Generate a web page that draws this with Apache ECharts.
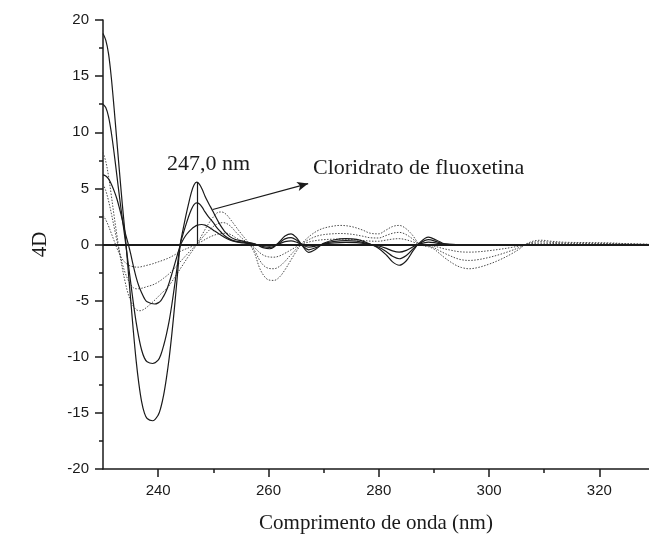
<!DOCTYPE html>
<html><head><meta charset="utf-8">
<script src="https://cdn.jsdelivr.net/npm/echarts@6/dist/echarts.min.js"></script>
<style>html,body{margin:0;padding:0;background:#fff}#c{width:649px;height:542px}</style>
</head><body><div id="c"></div>
<script>
// Axis tick values
const xMajorTicks = [240, 260, 280, 300, 320];
const xMinorTicks = [250, 270, 290, 310];
const yMin = -20, yMax = 20, yStep = 5;
const xMin = 230, xMax = 329;

// Annotation values
const peakLabel = '247,0 nm';
const compoundLabel = 'Cloridrato de fluoxetina';
const peakX = 247.0, peakY = 5.55;
const arrowFrom = [249.9, 3.12], arrowTo = [267.2, 5.43];

// Solid curves (fluoxetine, three concentrations)
const solidA = [[230,18.8],[230.5,18.2],[231,17.0],[231.5,14.9],[232,12.2],[232.5,9.3],[233,6.4],[233.5,3.6],[234,1.0],[234.5,-1.9],[235,-4.8],[235.5,-7.7],[236,-10.3],[236.5,-12.4],[237,-14.0],[237.5,-15.0],[238,-15.5],[239,-15.7],[240,-15.2],[240.5,-14.5],[241,-13.4],[241.5,-11.9],[242,-10.1],[242.5,-7.9],[243,-5.4],[243.5,-2.7],[244,0],[244.5,1.3],[245,2.5],[245.5,3.6],[246,4.6],[246.5,5.3],[247,5.55],[247.5,5.35],[248,4.9],[248.5,4.3],[249,3.8],[249.5,3.35],[250,2.9],[250.5,2.4],[251,1.95],[251.5,1.55],[252,1.2],[253,0.7],[254,0.45],[255.4,0.3],[257,0.12],[258,-0.05],[259,-0.28],[260.2,-0.38],[261,-0.22],[262,0.25],[263,0.75],[264.1,0.95],[265,0.65],[266,0],[267.3,-0.7],[268.5,-0.45],[270,0.1],[272,0.42],[274,0.52],[276,0.45],[278,0.12],[280,-0.35],[281.5,-1.0],[282.5,-1.55],[283.7,-1.85],[285,-1.45],[286.3,-0.5],[287.3,0.1],[289,0.65],[290.5,0.38],[292,0.05],[294,0],[329,0]];
const solidB = [[230,12.5],[230.5,12.2],[231,11.4],[231.5,10.0],[232,8.2],[232.5,6.2],[233,4.2],[233.5,2.3],[234,0.5],[234.5,-1.4],[235,-3.3],[235.5,-5.2],[236,-6.9],[236.5,-8.3],[237,-9.4],[237.5,-10.1],[238,-10.45],[239,-10.6],[240,-10.3],[240.5,-9.8],[241,-9.0],[241.5,-8.0],[242,-6.8],[242.5,-5.3],[243,-3.6],[243.5,-1.8],[244,0],[244.5,0.9],[245,1.7],[245.5,2.45],[246,3.1],[246.5,3.55],[247,3.7],[247.5,3.6],[248,3.3],[248.5,2.9],[249,2.55],[249.5,2.25],[250,1.95],[250.5,1.6],[251,1.3],[251.5,1.05],[252,0.8],[253,0.48],[254,0.3],[255.4,0.2],[257,0.08],[258,-0.03],[259,-0.18],[260.2,-0.26],[261,-0.15],[262,0.16],[263,0.5],[264.1,0.62],[265,0.42],[266,0],[267.3,-0.47],[268.5,-0.3],[270,0.07],[272,0.28],[274,0.35],[276,0.3],[278,0.08],[280,-0.24],[281.5,-0.68],[282.5,-1.05],[283.7,-1.27],[285,-0.98],[286.3,-0.34],[287.3,0.06],[289,0.43],[290.5,0.25],[292,0.03],[294,0],[329,0]];
const solidC = [[230,6.2],[230.5,6.1],[231,5.85],[231.5,5.4],[232,4.8],[232.5,4.1],[233,3.2],[233.5,2.2],[234,1.1],[234.6,0],[235,-0.8],[235.5,-1.9],[236,-2.9],[236.5,-3.7],[237,-4.3],[237.5,-4.8],[238,-5.1],[239.4,-5.3],[240,-5.2],[240.5,-5.0],[241,-4.6],[241.5,-4.1],[242,-3.4],[242.5,-2.6],[243,-1.75],[243.5,-0.9],[244,-0.1],[244.5,0.4],[245,0.8],[245.5,1.1],[246,1.35],[246.5,1.55],[247,1.7],[247.9,1.78],[248.5,1.72],[249,1.6],[249.5,1.45],[250,1.28],[251,0.95],[252,0.65],[253,0.4],[254,0.25],[255.4,0.15],[257,0.05],[258,-0.02],[259,-0.1],[260.2,-0.14],[261,-0.08],[262,0.08],[263,0.25],[264.1,0.32],[265,0.22],[266,0],[267.3,-0.24],[268.5,-0.15],[270,0.04],[272,0.15],[274,0.19],[276,0.16],[278,0.04],[280,-0.13],[281.5,-0.37],[282.5,-0.57],[283.7,-0.68],[285,-0.52],[286.3,-0.18],[287.3,0.03],[289,0.22],[290.5,0.13],[292,0.02],[294,0],[329,0]];

// Dotted curves (second component, three concentrations)
const dottedA = [[230,8.2],[230.5,7.4],[231,6.1],[231.5,4.4],[232,2.6],[232.5,0.9],[233,-0.7],[233.5,-2.1],[234,-3.3],[234.5,-4.3],[235,-5.0],[235.5,-5.5],[236,-5.8],[236.7,-5.9],[237.5,-5.75],[238.5,-5.35],[239.5,-4.9],[240.5,-4.4],[241.6,-3.9],[242.5,-3.3],[243.5,-2.55],[244.5,-1.8],[245.5,-1.05],[246.3,-0.5],[247,0],[248,0.9],[249,1.75],[250,2.45],[250.8,2.85],[251.5,2.9],[252.3,2.7],[253,2.3],[254,1.65],[255,1.0],[256,0.4],[256.7,-0.05],[257.5,-0.8],[258.4,-2.1],[259.2,-2.8],[260,-3.15],[261,-3.2],[262,-2.9],[263,-2.25],[264,-1.45],[265,-0.65],[266,0.05],[267,0.55],[268,0.95],[269,1.25],[270,1.45],[271.5,1.62],[273,1.7],[275,1.6],[277,1.3],[278.5,1.0],[280,0.95],[281.2,1.25],[282.5,1.6],[283.7,1.7],[284.7,1.5],[286,0.9],[287.3,0.05],[288,-0.1],[289,-0.2],[290,-0.4],[291,-0.8],[292,-1.2],[293,-1.55],[294,-1.85],[295,-2.05],[296.4,-2.16],[298,-2.05],[300,-1.75],[302,-1.35],[304,-0.85],[305.5,-0.4],[306.6,0],[308,0.3],[309.6,0.38],[311,0.3],[313.8,0.2],[318,0.17],[322,0.14],[325,0.07],[329,0.02]];
const dottedB = [[230,5.4],[230.5,4.8],[231,3.9],[231.5,2.8],[232,1.6],[232.5,0.4],[233,-0.7],[233.5,-1.7],[234,-2.5],[234.5,-3.1],[235,-3.55],[235.5,-3.85],[236.1,-3.95],[237,-3.9],[238,-3.75],[239,-3.6],[240,-3.35],[241,-3.0],[242,-2.6],[243,-2.1],[244,-1.55],[245,-1.0],[246,-0.48],[247,0],[248,0.6],[249,1.15],[250,1.6],[251,1.88],[251.8,1.95],[252.5,1.85],[253.3,1.55],[254,1.15],[255,0.65],[256,0.22],[256.7,-0.03],[257.5,-0.55],[258.4,-1.4],[259.2,-1.9],[260,-2.12],[261,-2.16],[262,-1.95],[263,-1.5],[264,-0.95],[265,-0.42],[266,0.05],[267,0.35],[268,0.6],[269,0.78],[270,0.88],[271.5,0.95],[273,0.98],[275,0.92],[277,0.75],[278.5,0.6],[280,0.58],[281.2,0.78],[282.5,1.0],[283.7,1.08],[284.7,0.95],[286,0.55],[287.3,0.03],[288,-0.07],[289,-0.14],[290,-0.28],[291,-0.55],[292,-0.8],[293,-1.02],[294,-1.22],[295,-1.36],[296.4,-1.42],[298,-1.35],[300,-1.15],[302,-0.88],[304,-0.55],[305.5,-0.26],[306.6,0],[308,0.2],[309.6,0.25],[311,0.2],[313.8,0.13],[318,0.11],[322,0.09],[325,0.05],[329,0.01]];
const dottedC = [[230,2.6],[230.5,2.2],[231,1.65],[231.5,1.0],[232,0.35],[232.5,-0.3],[233,-0.85],[233.5,-1.3],[234,-1.6],[234.5,-1.8],[235,-1.92],[235.7,-2.0],[236.4,-2.02],[237.2,-1.95],[238,-1.85],[239,-1.72],[240,-1.55],[241,-1.38],[242,-1.18],[243,-0.92],[244,-0.62],[245,-0.4],[246,-0.2],[247,0],[248,0.3],[249,0.58],[250,0.8],[251,0.95],[252.4,1.0],[253.3,0.85],[254,0.62],[255,0.35],[256,0.12],[256.7,-0.02],[257.5,-0.3],[258.4,-0.72],[259.2,-0.98],[260,-1.1],[261,-1.13],[262,-1.02],[263,-0.78],[264,-0.5],[265,-0.22],[266,0.03],[267,0.18],[268,0.3],[269,0.38],[270,0.43],[271.5,0.47],[273,0.48],[275,0.45],[277,0.37],[278.5,0.3],[280,0.29],[281.2,0.38],[282.5,0.48],[283.7,0.52],[284.7,0.45],[286,0.27],[287.3,0.02],[288,-0.04],[289,-0.07],[290,-0.14],[291,-0.27],[292,-0.4],[293,-0.5],[294,-0.6],[295,-0.66],[296.4,-0.68],[298,-0.65],[300,-0.55],[302,-0.42],[304,-0.27],[305.5,-0.13],[306.6,0],[308,0.1],[309.6,0.12],[311,0.1],[313.8,0.07],[318,0.06],[322,0.05],[325,0.03],[329,0]];

const serif = "'Liberation Serif', 'Times New Roman', serif";
const sans = "'Liberation Sans', Arial, sans-serif";
const ink = '#1a1a1a';
const dotInk = '#4a4a4a';

function solidSeries(data, extra) {
  return Object.assign({
    type: 'line', data: data, showSymbol: false, smooth: 0.35,
    lineStyle: { color: ink, width: 1.2 }, z: 3, silent: true
  }, extra || {});
}
function dottedSeries(data, extra) {
  return Object.assign({
    type: 'line', data: data, showSymbol: false, smooth: 0.35,
    lineStyle: { color: dotInk, width: 1, type: [1.5, 1.5] }, z: 2, silent: true
  }, extra || {});
}
function tickAxis(values, len) {
  return {
    type: 'value', min: xMin, max: xMax, position: 'bottom', offset: 0,
    axisLine: { show: false, onZero: false },
    axisTick: { show: true, customValues: values, length: len, lineStyle: { color: ink, width: 1.5 } },
    axisLabel: { show: false },
    splitLine: { show: false }
  };
}

const chart = echarts.init(document.getElementById('c'), null, { renderer: 'canvas' });
chart.setOption({
  animation: false,
  backgroundColor: '#fff',
  grid: { left: 103, right: 0, top: 20, bottom: 73, containLabel: false },
  xAxis: [{
    type: 'value', min: xMin, max: xMax, position: 'bottom',
    name: 'Comprimento de onda (nm)', nameLocation: 'middle', nameGap: 44,
    nameTextStyle: { fontFamily: serif, fontSize: 21, color: ink },
    axisLine: { show: true, onZero: false, lineStyle: { color: ink, width: 1.5 } },
    axisTick: { show: false },
    axisLabel: { customValues: xMajorTicks, margin: 14, fontFamily: sans, fontSize: 15, color: ink },
    splitLine: { show: false }
  }, tickAxis(xMajorTicks, 8), tickAxis(xMinorTicks, 4)],
  yAxis: {
    type: 'value', min: yMin, max: yMax, interval: yStep,
    name: '4D', nameLocation: 'middle', nameGap: 52, nameRotate: 90,
    nameTextStyle: { fontFamily: serif, fontSize: 21, color: ink },
    axisLine: { show: true, onZero: false, lineStyle: { color: ink, width: 1.5 } },
    axisTick: { show: true, length: 8, lineStyle: { color: ink, width: 1.5 } },
    minorTick: { show: true, splitNumber: 2, length: 4, lineStyle: { color: ink, width: 1.5 } },
    axisLabel: { margin: 14, fontFamily: sans, fontSize: 15, color: ink },
    splitLine: { show: false }, minorSplitLine: { show: false }
  },
  series: [
    dottedSeries(dottedA, {
      markLine: {
        silent: true, symbol: ['none', 'arrow'], symbolSize: [7, 11],
        lineStyle: { color: ink, width: 1.2, type: 'solid' }, label: { show: false },
        data: [[{ coord: arrowFrom }, { coord: arrowTo }]]
      }
    }),
    dottedSeries(dottedB),
    dottedSeries(dottedC),
    solidSeries(solidA, {
      markLine: {
        silent: true, symbol: ['none', 'none'], label: { show: false },
        lineStyle: { color: ink, width: 2, type: 'solid' },
        data: [
          { yAxis: 0 },
          [{ coord: [peakX, 0], lineStyle: { width: 1.2 } }, { coord: [peakX, peakY] }]
        ]
      }
    }),
    solidSeries(solidB),
    solidSeries(solidC)
  ],
  graphic: [
    { type: 'text', left: 167, top: 153, style: { text: peakLabel, font: "22px " + serif, fill: ink } },
    { type: 'text', left: 313, top: 157, style: { text: compoundLabel, font: "22px " + serif, fill: ink } }
  ]
});
</script>
</body></html>
